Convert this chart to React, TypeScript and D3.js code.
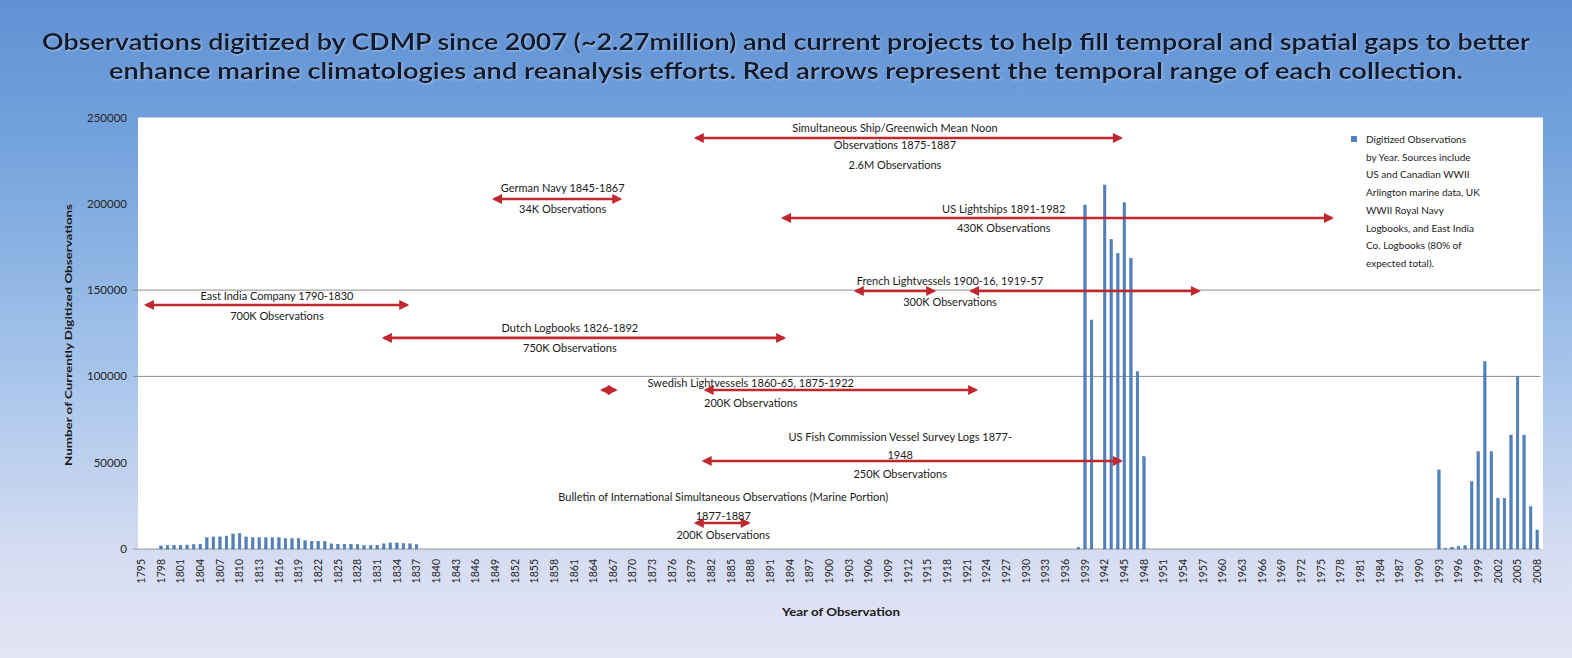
import React from "react";
import * as d3 from "d3";

// ---------- DATA ----------
const firstYear = 1795;
const lastYear = 2008;

const earlyYears = [1798, 1837];
const earlyCounts = [1800, 2000, 2200, 2200, 2300, 2500, 2800, 6500, 7000, 7000, 7500, 8700, 9000, 7000, 6500, 6500, 6500, 6500, 6500, 6000, 6000, 6000, 4800, 4500, 4500, 4300, 3000, 2800, 2800, 2700, 2500, 2000, 2000, 2200, 3000, 3500, 3500, 3200, 3000, 2500];

const warYears = [1938, 1948];
const warCounts = [1000, 199300, 132700, 0, 210900, 179400, 171300, 200600, 168400, 102700, 53500];

const modernYears = [1993, 2008];
const modernCounts = [45800, 500, 1000, 1500, 2000, 39000, 56400, 108500, 56400, 29400, 29400, 66000, 99800, 66000, 24500, 11000];

const yTicks = [0, 50000, 100000, 150000, 200000, 250000];
const gridValues = [100000, 150000];

const titleLines = [
  "Observations digitized by CDMP since 2007 (~2.27million) and current projects to help fill temporal and spatial gaps to better",
  "enhance marine climatologies and reanalysis efforts. Red arrows represent the temporal range of each collection.",
];

const legendLines = [
  "Digitized Observations",
  "by Year. Sources include",
  "US and Canadian WWII",
  "Arlington marine data, UK",
  "WWII Royal Navy",
  "Logbooks, and East India",
  "Co. Logbooks (80% of",
  "expected total).",
];

// annotation arrows: year ranges, value level, text centre year, text lines
const annotations = [
  { arrows: [[1879.2, 1945.9]], value: 238100, cx: 1910.5, lines: ["Simultaneous Ship/Greenwich Mean Noon", "Observations 1875-1887", "2.6M Observations"], dys: [-6, 11, 31] },
  { arrows: [[1848.4, 1869.5]], value: 202800, cx: 1859.8, lines: ["German Navy 1845-1867", "34K Observations"], dys: [-7, 14] },
  { arrows: [[1892.5, 1978.1]], value: 191800, cx: 1927.1, lines: ["US Lightships 1891-1982", "430K Observations"], dys: [-5, 14] },
  { arrows: [[1903.6, 1917.4], [1921.2, 1957.8]], value: 149500, cx: 1918.9, lines: ["French Lightvessels 1900-16, 1919-57", "300K Observations"], dys: [-6, 15] },
  { arrows: [[1795.3, 1837.0]], value: 141400, cx: 1816.2, lines: ["East India Company 1790-1830", "700K Observations"], dys: [-5, 15] },
  { arrows: [[1831.6, 1894.5]], value: 122300, cx: 1860.9, lines: ["Dutch Logbooks 1826-1892", "750K Observations"], dys: [-6, 14] },
  { arrows: [[1864.9, 1868.8], [1880.7, 1923.8]], value: 92100, cx: 1888.5, lines: ["Swedish Lightvessels 1860-65, 1875-1922", "200K Observations"], dys: [-3, 17] },
  { arrows: [[1880.4, 1945.9]], value: 51000, cx: 1911.3, lines: ["US Fish Commission Vessel Survey Logs 1877-", "1948", "250K Observations"], dys: [-20, -2, 17] },
  { arrows: [[1879.2, 1889.1]], value: 15100, cx: 1884.3, lines: ["Bulletin of International Simultaneous Observations (Marine Portion)", "1877-1887", "200K Observations"], dys: [-22, -3, 16] },
];

// ---------- LAYOUT ----------
const W = 1572;
const H = 658;
const plot = { left: 138, right: 1540.5, top: 117.5, bottom: 549 };
const barBlue = "#4f81bd";
const arrowRed = "#c0282d";

export default function App() {
  const years = d3.range(firstYear, lastYear + 1);
  const countByYear = new Map<number, number>();
  const addSeries = (span: number[], counts: number[]) =>
    counts.forEach((c, i) => countByYear.set(span[0] + i, c));
  addSeries(earlyYears, earlyCounts);
  addSeries(warYears, warCounts);
  addSeries(modernYears, modernCounts);

  const x = d3.scaleBand<number>().domain(years).range([plot.left, plot.right]).padding(0);
  const xLin = d3.scaleLinear().domain([firstYear, lastYear + 1]).range([plot.left, plot.right]);
  const y = d3.scaleLinear().domain([0, 250000]).range([plot.bottom, plot.top]);
  const bw = x.bandwidth();
  const barW = bw * 0.4;

  const tickYears = years.filter((_, i) => i % 3 === 0);

  return (
    <svg
      width={W}
      height={H}
      style={{ position: "absolute", left: 0, top: 0, display: "block" }}
      fontFamily="Lato, 'Open Sans', sans-serif"
    >
      <defs>
        <linearGradient id="bg" x1="0" y1="0" x2="0" y2="1">
          <stop offset="0" stopColor="#6191d4" />
          <stop offset="0.2" stopColor="#72a1dc" />
          <stop offset="0.55" stopColor="#a4c3ea" />
          <stop offset="0.85" stopColor="#d6ddf2" />
          <stop offset="1" stopColor="#e4e5f4" />
        </linearGradient>
        <marker id="ah" viewBox="0 0 10 10" refX="8" refY="5" markerWidth="11" markerHeight="10" markerUnits="userSpaceOnUse" orient="auto-start-reverse">
          <path d="M0,0 L10,5 L0,10 z" fill={arrowRed} />
        </marker>
        <filter id="glow" x="-5%" y="-30%" width="110%" height="160%">
          <feGaussianBlur in="SourceAlpha" stdDeviation="1.2" />
          <feOffset dx="0.5" dy="1" result="b" />
          <feFlood floodColor="#ffffff" floodOpacity="0.35" />
          <feComposite in2="b" operator="in" />
          <feMerge>
            <feMergeNode />
            <feMergeNode in="SourceGraphic" />
          </feMerge>
        </filter>
      </defs>

      <rect x={0} y={0} width={W} height={H} fill="url(#bg)" />

      {/* title */}
      <g filter="url(#glow)">
        {titleLines.map((t, i) => (
          <text
            key={i}
            x={786}
            y={50 + i * 29}
            textAnchor="middle"
            fontSize={23}
            fontWeight="bold"
            fill="#111c33"
            textLength={i === 0 ? 1488 : 1354}
            lengthAdjust="spacingAndGlyphs"
          >
            {t}
          </text>
        ))}
      </g>

      {/* plot area */}
      <rect x={plot.left} y={plot.top} width={1543 - plot.left} height={plot.bottom - plot.top} fill="#ffffff" />

      {/* grid */}
      {gridValues.map((v) => (
        <line key={v} x1={plot.left - 5} x2={plot.right} y1={y(v)} y2={y(v)} stroke="#8c8c8c" strokeWidth={1} />
      ))}
      <line x1={plot.left - 5} x2={plot.right} y1={y(0)} y2={y(0)} stroke="#9a9a9a" strokeWidth={1} />

      {/* y tick labels */}
      {yTicks.map((v) => (
        <text key={v} x={127} y={y(v)} dy="0.35em" textAnchor="end" fontSize={11.5} fill="#262626">
          {v}
        </text>
      ))}

      {/* bars */}
      {years.map((yr) => {
        const c = countByYear.get(yr) || 0;
        if (c <= 0) return null;
        const bx = (x(yr) as number) + (bw - barW) / 2;
        return (
          <rect key={yr} x={bx} y={y(c)} width={barW} height={y(0) - y(c)} fill={barBlue} stroke="#3d6aa3" strokeWidth={0.4} />
        );
      })}

      {/* x tick labels */}
      {tickYears.map((yr) => (
        <text
          key={yr}
          transform={`translate(${(x(yr) as number) + bw / 2},559) rotate(-90)`}
          dy="0.35em"
          textAnchor="end"
          fontSize={10.5}
          fill="#262626"
        >
          {yr}
        </text>
      ))}

      {/* axis titles */}
      <text
        transform="translate(68,335) rotate(-90)"
        dy="0.35em"
        textAnchor="middle"
        fontSize={10}
        fontWeight="bold"
        fill="#1a1a1a"
        textLength={262}
        lengthAdjust="spacingAndGlyphs"
      >
        Number of Currently Digitized Observations
      </text>
      <text x={841} y={616} textAnchor="middle" fontSize={10.5} fontWeight="bold" fill="#1a1a1a" textLength={118} lengthAdjust="spacingAndGlyphs">
        Year of Observation
      </text>

      {/* annotations */}
      {annotations.map((a, ai) => (
        <g key={ai}>
          {a.arrows.map((r, ri) => (
            <line
              key={ri}
              x1={xLin(r[0]) + 6}
              x2={xLin(r[1]) - 6}
              y1={y(a.value)}
              y2={y(a.value)}
              stroke={arrowRed}
              strokeWidth={2.6}
              markerStart="url(#ah)"
              markerEnd="url(#ah)"
            />
          ))}
          {a.lines.map((t, li) => (
            <text key={li} x={xLin(a.cx)} y={y(a.value) + a.dys[li]} textAnchor="middle" fontSize={11} fill="#1a1a1a">
              {t}
            </text>
          ))}
        </g>
      ))}

      {/* legend */}
      <rect x={1351} y={136} width={6} height={6} fill={barBlue} />
      {legendLines.map((t, i) => (
        <text key={i} x={1366} y={143 + i * 17.7} fontSize={10} fill="#222">
          {t}
        </text>
      ))}
    </svg>
  );
}
